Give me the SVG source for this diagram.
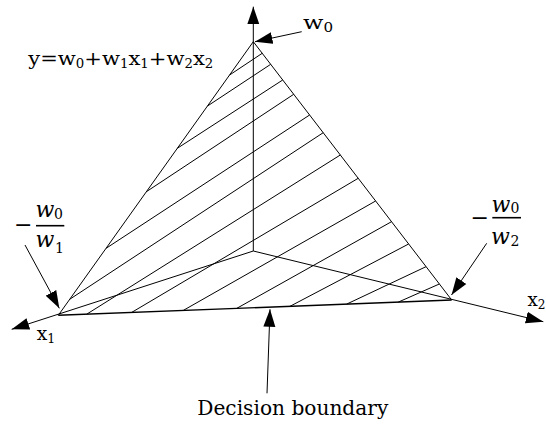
<svg xmlns="http://www.w3.org/2000/svg" width="546" height="426" viewBox="0 0 546 426">
<style>
.ln{stroke:#000;stroke-width:1;fill:none}
.ar{stroke:#000;stroke-width:1;fill:none;marker-end:url(#ah)}
.t{font-family:"DejaVu Serif","Liberation Serif",serif;fill:#000}
.it{font-family:"DejaVu Serif","Liberation Serif",serif;font-style:italic;fill:#000}
</style>
<defs>
<marker id="ah" markerUnits="userSpaceOnUse" viewBox="0 0 18 13" markerWidth="18" markerHeight="13" refX="17.5" refY="6.5" orient="auto">
<path d="M0,0.5 L17.5,6.5 L0,12.5 z" fill="#000"/>
</marker>
</defs>
<rect width="546" height="426" fill="#fff"/>
<g id="axes">
<line class="ar" x1="253.3" y1="251" x2="253.3" y2="6.7"/>
<line class="ar" x1="253.3" y1="251" x2="11.7" y2="329.3"/>
<line class="ar" x1="253.3" y1="251" x2="543.3" y2="321.7"/>
</g>
<g id="plane">
<polyline class="ln" points="58.3,315.3 253.3,41.7 451.7,300"/>
<line class="ln" style="stroke-width:1.4" x1="58.3" y1="315.3" x2="451.7" y2="300"/>
</g>
<g id="hatch" class="ln">
<line x1="229.6" y1="75" x2="262.2" y2="53.3"/>
<line x1="207.5" y1="106" x2="270.7" y2="64.3"/>
<line x1="177.3" y1="148.3" x2="282.7" y2="80"/>
<line x1="146.4" y1="191.7" x2="293.7" y2="94.3"/>
<line x1="106.1" y1="248.3" x2="309.6" y2="115"/>
<line x1="69.7" y1="299.3" x2="323.2" y2="132.7"/>
<line x1="86.7" y1="314.2" x2="340.3" y2="155"/>
<line x1="131.7" y1="312.4" x2="358.2" y2="178.3"/>
<line x1="183.3" y1="310.4" x2="375.6" y2="201"/>
<line x1="236.7" y1="308.4" x2="391.5" y2="221.7"/>
<line x1="290" y1="306.3" x2="408.6" y2="244"/>
<line x1="346.7" y1="304.1" x2="426" y2="266.7"/>
<line x1="398.3" y1="302.1" x2="439.3" y2="284"/>
</g>
<g id="connectors">
<line class="ar" x1="301.7" y1="31.7" x2="255" y2="41.7"/>
<line class="ar" x1="25" y1="245" x2="59.3" y2="308.3"/>
<line class="ar" x1="486.7" y1="243.3" x2="451.5" y2="295"/>
<line class="ar" x1="267" y1="393.3" x2="270" y2="309.3"/>
</g>
<g id="label-w0">
<text class="t" x="303" y="29" font-size="19" textLength="30" lengthAdjust="spacingAndGlyphs">w<tspan font-size="12" dy="3">0</tspan></text>
</g>
<g id="label-formula">
<text class="t" x="28.3" y="65" font-size="19" textLength="185" lengthAdjust="spacingAndGlyphs">y=w<tspan font-size="12" dy="3">0</tspan><tspan dy="-3">+w</tspan><tspan font-size="12" dy="3">1</tspan><tspan dy="-3">x</tspan><tspan font-size="12" dy="3">1</tspan><tspan dy="-3">+w</tspan><tspan font-size="12" dy="3">2</tspan><tspan dy="-3">x</tspan><tspan font-size="12" dy="3">2</tspan></text>
</g>
<g id="label-left-intercept">
<text class="t" x="14" y="232" font-size="22">−</text>
<line x1="36" y1="225.7" x2="64.3" y2="225.7" stroke="#000" stroke-width="1.6"/>
<text class="it" x="35.5" y="217.3" font-size="22">w</text>
<text class="t" x="54" y="219.3" font-size="14">0</text>
<text class="it" x="35.5" y="246.7" font-size="22">w</text>
<text class="t" x="55" y="252.5" font-size="14">1</text>
</g>
<g id="label-right-intercept">
<text class="t" x="470.5" y="224.5" font-size="22">−</text>
<line x1="492.3" y1="217.7" x2="521" y2="217.7" stroke="#000" stroke-width="1.6"/>
<text class="it" x="491.5" y="211.7" font-size="22">w</text>
<text class="t" x="510.5" y="212.5" font-size="14">0</text>
<text class="it" x="491" y="244" font-size="22">w</text>
<text class="t" x="510.5" y="246" font-size="14">2</text>
</g>
<g id="label-x1">
<text class="t" x="36.7" y="340" font-size="18" textLength="18.5" lengthAdjust="spacingAndGlyphs">x<tspan font-size="12" dy="3">1</tspan></text>
</g>
<g id="label-x2">
<text class="t" x="527.5" y="305.7" font-size="18" textLength="18" lengthAdjust="spacingAndGlyphs">x<tspan font-size="12" dy="3">2</tspan></text>
</g>
<g id="label-boundary">
<text class="t" x="197.3" y="415" font-size="20" textLength="191" lengthAdjust="spacingAndGlyphs">Decision boundary</text>
</g>
</svg>
